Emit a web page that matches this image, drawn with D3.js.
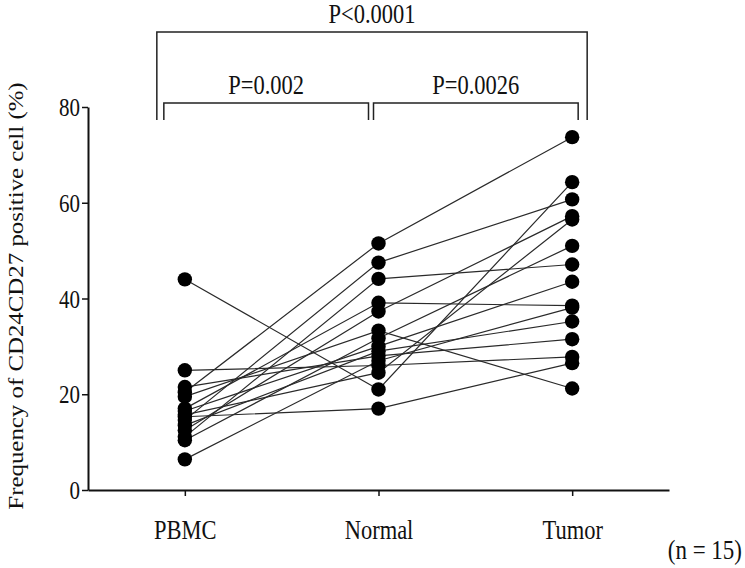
<!DOCTYPE html>
<html>
<head>
<meta charset="utf-8">
<script src="https://cdn.jsdelivr.net/npm/d3@7/dist/d3.min.js"></script>
<style>
  html, body { margin: 0; padding: 0; background: #fff; }
  svg { display: block; }
  svg text { font-family: "Liberation Serif", "Times New Roman", serif !important; fill: #111; }
</style>
</head>
<body>
<svg id="chart" width="745" height="568"></svg>
<script>
// ---- data ----
const categories = ["PBMC", "Normal", "Tumor"];
const pbmc   = [44.0, 20.4, 14.6, 11.1, 15.3, 17.0, 12.5, 19.5, 10.4, 16.5, 13.5, 21.5, 6.4, 25.0, 15.7];
const normal = [21.0, 51.5, 47.5, 44.1, 17.0, 39.1, 37.3, 33.3, 31.7, 30.0, 29.0, 28.0, 27.0, 26.0, 24.5];
const tumor  = [64.3, 73.7, 60.7, 47.1, 26.5, 38.5, 57.2, 21.2, 51.0, 43.5, 35.2, 31.5, 38.1, 27.8, 56.5];
const yTicks = [0, 20, 40, 60, 80];
const comparisons = [
  { from: "PBMC", to: "Tumor", label: "P<0.0001", level: 0 },
  { from: "PBMC", to: "Normal", label: "P=0.002", level: 1 },
  { from: "Normal", to: "Tumor", label: "P=0.0026", level: 1 }
];
const yLabel = "Frequency of CD24CD27 positive cell (%)";
const nLabel = "(n = 15)";

// ---- layout ----
const SY = 1.2; // vertical stretch of glyphs seen in the reference
const svg = d3.select("#chart");
const x = d3.scalePoint().domain(categories).range([88, 669]).padding(0.5);
const y = d3.scaleLinear().domain([0, 80]).range([490, 107]);

const subjects = pbmc.map((v, i) => [
  { cat: "PBMC", v: v },
  { cat: "Normal", v: normal[i] },
  { cat: "Tumor", v: tumor[i] }
]);

// lines
const line = d3.line().x(d => x(d.cat)).y(d => y(d.v));
svg.append("g").selectAll("path").data(subjects).join("path")
  .attr("d", line).attr("fill", "none").attr("stroke", "#2a2a2a").attr("stroke-width", 1.2);

// points
svg.append("g").selectAll("circle").data(subjects.flat()).join("circle")
  .attr("cx", d => x(d.cat)).attr("cy", d => y(d.v)).attr("r", 7.2).attr("fill", "#000");

// y axis
const yAxis = svg.append("g").attr("transform", "translate(88,0)")
  .call(d3.axisLeft(y).tickValues(yTicks).tickSize(6).tickSizeOuter(0).tickPadding(2));
yAxis.attr("font-family", null);
yAxis.select(".domain").attr("stroke", "#111").attr("stroke-width", 2);
yAxis.selectAll(".tick line").attr("stroke", "#111").attr("stroke-width", 1.5);
yAxis.selectAll(".tick text").attr("font-size", 21).attr("fill", "#111")
  .attr("transform", `scale(1,${SY})`).attr("dy", "0.34em");

// x axis
const xAxis = svg.append("g").attr("transform", "translate(0,490)")
  .call(d3.axisBottom(x).tickSize(6).tickSizeOuter(0));
xAxis.attr("font-family", null);
xAxis.select(".domain").attr("stroke", "#111").attr("stroke-width", 2);
xAxis.selectAll(".tick line").attr("stroke", "#111").attr("stroke-width", 1.5);
xAxis.selectAll(".tick text").attr("font-size", 22.5).attr("fill", "#111")
  .attr("dy", null).attr("y", 49 / SY).attr("transform", `scale(1,${SY})`);

// y label
svg.append("text")
  .attr("transform", `translate(23,296) rotate(-90) scale(1.13,1)`)
  .attr("text-anchor", "middle")
  .attr("font-size", 22)
  .text(yLabel);

// n label
svg.append("text").attr("transform", `translate(742,559) scale(1,${SY})`).attr("text-anchor", "end")
  .attr("font-size", 23).text(nLabel);

// brackets
const brk = svg.append("g").attr("fill", "none").attr("stroke", "#222").attr("stroke-width", 1.5);
const levelY = [32, 103];
const offsets = {
  "PBMC-Tumor": [-28, 15],
  "PBMC-Normal": [-21, -10],
  "Normal-Tumor": [-5, 6]
};
comparisons.forEach(c => {
  const off = offsets[c.from + "-" + c.to];
  const x1 = x(c.from) + off[0], x2 = x(c.to) + off[1];
  const yy = levelY[c.level];
  brk.append("path").attr("d", `M${x1},120V${yy}H${x2}V120`);
  svg.append("text").attr("transform", `translate(${(x1 + x2) / 2},${yy - 9}) scale(1,${SY})`)
    .attr("text-anchor", "middle").attr("font-size", 22.5).text(c.label);
});
</script>
</body>
</html>
